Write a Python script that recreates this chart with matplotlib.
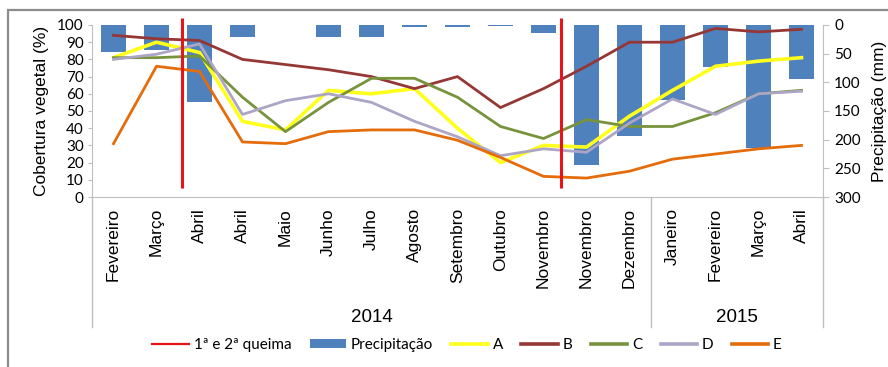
import matplotlib
matplotlib.use("Agg")
import matplotlib.pyplot as plt
from matplotlib.lines import Line2D
from matplotlib.patches import Patch, Rectangle

# ---------------- data ----------------
months = ["Fevereiro", "Março", "Abril", "Abril", "Maio", "Junho", "Julho", "Agosto",
          "Setembro", "Outubro", "Novembro", "Novembro", "Dezembro",
          "Janeiro", "Fevereiro", "Março", "Abril"]
years = ["2014"] * 13 + ["2015"] * 4

precip = [47, 44, 134, 21, 0, 21, 21, 3, 4, 2, 14, 244, 193, 131, 73, 214, 94]

serie_A = [81, 90, 84, 44, 39, 62, 60, 63, 40, 20, 30, 29, 47, 62, 76, 79, 81]
serie_B = [94, 92, 91, 80, 77, 74, 70, 63, 70, 52, 63, 76, 90, 90, 98, 96, 97.5]
serie_C = [81, 81, 82, 58, 38, 55, 69, 69, 58, 41, 34, 45, 41, 41, 49, 60, 62]
serie_D = [80, 83, 89, 48, 56, 60, 55, 44, 35, 24, 28, 26, 43, 57, 48, 60, 61.5]
serie_E = [31, 76, 73, 32, 31, 38, 39, 39, 33, 23, 12, 11, 15, 22, 25, 28, 30]

burn_x = [1.6, 10.4]        # 1ª e 2ª queima (position between categories)
burn_span = [5, 104]        # vertical extent in % units

series = {"A": serie_A, "B": serie_B, "C": serie_C, "D": serie_D, "E": serie_E}
colors = {"A": "#FFFF1E", "B": "#953735", "C": "#77933C", "D": "#ADA5C6", "E": "#E46C0A"}
widths = {"A": 2.6, "B": 2.0, "C": 2.0, "D": 2.0, "E": 2.0}

# ---------------- figure ----------------
W, H = 888, 367
fig = plt.figure(figsize=(W / 100, H / 100), dpi=100)
fig.patch.set_facecolor("white")

L, R, T, B = 92, 823, 25, 197
ax = fig.add_axes([L / W, 1 - B / H, (R - L) / W, (B - T) / H])
ax2 = ax.twinx()
ax.set_zorder(2)
ax2.set_zorder(1)
ax.patch.set_visible(False)

x = list(range(len(months)))

# bars (precipitation) on inverted right axis
ax2.bar(x, precip, width=0.58, color="#4F81BD", zorder=1)
ax2.set_ylim(300, 0)
ax2.set_yticks(range(0, 301, 50))

# lines
for k, v in series.items():
    ax.plot(x, v, color=colors[k], lw=widths[k], solid_joinstyle="round", zorder=3)

ax.vlines(burn_x, burn_span[0], burn_span[1], color="#E8141B", lw=2.2, zorder=5,
          clip_on=False)

ax.set_ylim(0, 100)
ax.set_yticks(range(0, 101, 10))
ax.set_xlim(-0.5, len(months) - 0.5)
ax.set_xticks(x)
ax.set_xticklabels(months, rotation=90, fontsize=12.5, family="Liberation Sans",
                   va="top")
ax.tick_params(axis="x", length=0, pad=8)

for a in (ax, ax2):
    a.spines["top"].set_visible(False)
    for s in ("left", "right", "bottom"):
        a.spines[s].set_color("#BFBFBF")
ax.spines["right"].set_visible(False)
ax2.spines["left"].set_visible(False)
ax2.spines["bottom"].set_visible(False)

ax.tick_params(axis="y", length=3, color="#BFBFBF", labelsize=11, pad=3)
ax2.tick_params(axis="y", length=4, color="#BFBFBF", labelsize=11, pad=4)
for lab in ax.get_yticklabels() + ax2.get_yticklabels():
    lab.set_family("Lato")

ax.set_ylabel("Cobertura vegetal (%)", fontsize=12.5, family="Liberation Sans",
              labelpad=6)
ax2.set_ylabel("Precipitação (mm)", fontsize=12.5, family="Liberation Sans",
               labelpad=8)

# year grouping
tr = ax.get_xaxis_transform()
bounds = [-0.5]
for i in range(1, len(years)):
    if years[i] != years[i - 1]:
        bounds.append(i - 0.5)
bounds.append(len(years) - 0.5)
for b in bounds:
    ax.add_line(Line2D([b, b], [0, -0.756], transform=tr, color="#BFBFBF", lw=1.0,
                       clip_on=False))
for i in range(len(bounds) - 1):
    lo, hi = bounds[i], bounds[i + 1]
    yr = years[int(lo + 0.5)]
    ax.text((lo + hi) / 2, -0.70, yr, transform=tr, ha="center", va="center",
            fontsize=13.5, family="Liberation Sans")

# legend
handles = [Line2D([], [], color="#E8141B", lw=1.6),
           Patch(facecolor="#4F81BD", edgecolor="none")]
labels = ["1ª e 2ª queima", "Precipitação"]
for k in series:
    handles.append(Line2D([], [], color=colors[k], lw=2.6))
    labels.append(k)
fig.legend(handles, labels, loc="center", ncol=7, frameon=False,
           bbox_to_anchor=(0.526, 1 - 345 / H), prop={"family": "Lato", "size": 11},
           handlelength=2.4, handleheight=0.5, columnspacing=1.2, handletextpad=0.3)

# outer chart frame (partially visible)
fig.add_artist(Rectangle((8 / W, -0.2), 1.2, 1 - 10 / H + 0.2, transform=fig.transFigure,
                         fill=False, edgecolor="#8C8C8C", lw=1.6, clip_on=False))

fig.savefig("out.png", dpi=100)
